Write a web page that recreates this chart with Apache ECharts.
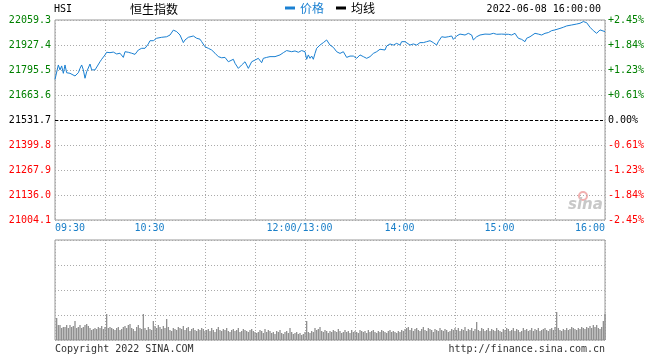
<!DOCTYPE html>
<html><head><meta charset="utf-8">
<script src="https://cdn.jsdelivr.net/npm/echarts@6/dist/echarts.min.js"></script>
<style>html,body{margin:0;padding:0;background:#fff}#c{width:660px;height:360px}</style>
</head><body><div id="c"></div>
<script>
// ---- data ----
const prevClose = 21531.7;           // previous close (base line)
const priceStep = 131.9;             // axis step in index points
const tickMinutes = [0, 60, 150, 210, 270, 330];           // trading minutes since 09:30
const tickLabels = ['09:30', '10:30', '12:00/13:00', '14:00', '15:00', '16:00'];

// trading minutes since open (lunch break removed)
const priceMinutes = [
  0,2,3,4,5,6,7,8,9,10,
  12,14,15,16,17,18,19,21,22,24,
  25,27,28,30,31,33,35,37,39,41,
  42,44,45,46,48,50,52,54,56,57,
  59,61,62,64,67,69,71,73,75,77,
  78,80,83,85,87,88,89,90,92,94,
  96,98,100,102,104,107,108,110,112,114,
  116,118,120,122,124,125,127,129,132,135,
  137,139,142,144,146,148,150,151,152,153,
  154,155,156,157,159,161,162,163,164,165,
  167,169,171,173,175,177,179,181,183,185,
  187,189,191,193,195,196,198,199,201,203,
  205,207,208,210,211,213,215,216,217,219,
  221,223,225,227,229,230,232,234,236,238,
  239,241,243,246,248,250,251,252,253,255,
  258,261,263,265,266,268,270,272,274,276,
  277,278,280,282,283,285,288,290,292,294,
  296,298,300,301,303,305,307,310,313,315,
  317,318,319,321,323,325,327,328,330
];
const prices = [
  21746,21822,21796,21817,21778,21822,21781,21786,21778,21781,
  21764,21781,21804,21822,21796,21752,21786,21827,21796,21796,
  21804,21839,21852,21875,21889,21887,21890,21880,21884,21862,
  21892,21889,21897,21884,21878,21901,21910,21910,21933,21950,
  21950,21963,21954,21968,21971,21980,22006,21998,21980,21940,
  21954,21968,21975,21963,21958,21945,21954,21918,21910,21901,
  21884,21866,21860,21862,21839,21852,21831,21804,21822,21839,
  21804,21839,21848,21857,21834,21857,21862,21866,21866,21875,
  21887,21898,21892,21896,21889,21898,21892,21852,21875,21857,
  21869,21852,21883,21910,21927,21940,21940,21954,21957,21927,
  21915,21892,21883,21892,21862,21869,21869,21857,21875,21866,
  21857,21866,21883,21892,21905,21915,21901,21922,21933,21927,
  21936,21927,21945,21945,21954,21927,21933,21940,21927,21940,
  21940,21945,21950,21940,21927,21945,21971,21968,21971,21975,
  21957,21975,21985,21980,21989,21980,21954,21945,21971,21980,
  21985,21984,21989,21984,21989,21985,21984,21984,21980,21989,
  21975,21963,21957,21945,21963,21971,21989,21985,21980,21989,
  21993,22003,22007,22010,22015,22021,22028,22033,22038,22042,
  22051,22056,22045,22021,22003,21989,22007,21998,21998
];
// volume per minute, minutes 1..330 (relative units, axis top = 100)
const volume = [
  22,15,15,12,13,13,15,12,15,13,14,19,12,13,15,12,13,15,16,14,12,10,11,12,11,13,12,14,11,13,
  26,12,13,12,11,10,12,13,10,11,13,14,12,15,16,12,11,9,13,15,12,11,26,12,10,13,11,10,19,14,
  12,15,13,11,14,12,21,13,10,9,12,11,10,13,12,11,14,10,12,13,9,11,12,10,9,11,10,12,11,9,
  10,11,9,12,10,8,11,13,10,9,11,10,12,9,8,10,11,9,10,12,8,9,11,10,9,8,10,11,9,8,
  7,8,10,9,7,11,8,10,9,7,8,6,9,8,10,7,6,8,9,7,12,8,6,7,8,6,7,5,6,8,
  19,8,7,9,8,12,10,11,13,9,8,10,9,7,9,8,10,9,8,11,9,7,8,10,8,9,7,10,8,9,
  8,7,10,9,8,9,7,10,8,9,10,8,7,9,8,10,9,8,7,9,10,8,9,8,7,9,8,10,9,11,
  12,13,10,12,9,11,12,10,9,11,13,10,9,12,11,10,8,11,10,9,12,10,9,11,10,8,9,11,10,12,
  10,12,9,11,10,13,9,11,10,12,9,11,18,10,9,12,11,9,10,12,9,11,10,9,12,10,9,8,11,10,
  12,11,9,10,12,9,11,10,8,9,12,10,11,9,10,12,9,11,10,12,9,10,11,12,10,9,11,12,10,13,
  28,12,10,9,11,10,12,10,11,13,12,11,10,12,11,13,12,11,13,12,14,12,15,13,15,12,11,13,19,26
];

// ---- chart ----
const MONO = '"DejaVu Sans Mono","Liberation Mono",monospace';
const CJK = '"Noto Sans CJK SC","Noto Sans",sans-serif';
const BLUE = '#1a80d2';
const LBLUE = '#1a7fc8';
const tenthsMax = Math.round(priceStep * 40);   // 4 steps, in tenths of a point
const tenthsStep = Math.round(priceStep * 10);
const colorFor = v => { v = Number(v); return v > 0 ? '#008000' : (v < 0 ? '#ff0000' : '#000000'); };

const priceData = priceMinutes.map((m, i) => [m, Math.round((prices[i] - prevClose) * 10)]);
const volData = volume.map((v, i) => [i + 1, v]);

const dotted = { show: true, lineStyle: { color: '#aaa', type: [1, 2], width: 1 } };

const chart = echarts.init(document.getElementById('c'), null, { renderer: 'canvas' });
chart.setOption({
  animation: false,
  backgroundColor: '#fff',
  title: [
    { text: 'HSI', left: 54, top: 4, padding: 0, textStyle: { fontFamily: MONO, fontSize: 10, fontWeight: 'normal', color: '#000' } },
    { text: '恒生指数', left: 130, top: 3, padding: 0, textStyle: { fontFamily: CJK, fontSize: 12, fontWeight: 'normal', color: '#000' } },
    { text: '2022-06-08 16:00:00', right: 59, top: 4, padding: 0, textStyle: { fontFamily: MONO, fontSize: 10, fontWeight: 'normal', color: '#000' } },
    { text: 'Copyright 2022 SINA.COM', left: 55, top: 344, padding: 0, textStyle: { fontFamily: MONO, fontSize: 10, fontWeight: 'normal', color: '#333' } },
    { text: 'http://finance.sina.com.cn', right: 55, top: 344, padding: 0, textStyle: { fontFamily: MONO, fontSize: 10, fontWeight: 'normal', color: '#333' } }
  ],
  legend: {
    left: 285, top: 2, padding: 0, icon: 'rect', itemWidth: 10, itemHeight: 3, itemGap: 12,
    selectedMode: false,
    textStyle: { fontFamily: CJK, fontSize: 12 },
    data: [
      { name: '价格', textStyle: { color: BLUE } },
      { name: '均线', textStyle: { color: '#000' } }
    ]
  },
  graphic: [
    { type: 'circle', silent: true, shape: { cx: 583, cy: 196, r: 4 },
      style: { fill: 'none', stroke: '#f2b0b0', lineWidth: 2 } },
    { type: 'text', left: 568, top: 198, silent: true,
      style: { text: 'sina', fill: '#c8c8c8', font: 'italic bold 15px "DejaVu Sans",sans-serif' } }
  ],
  grid: [
    { left: 55, right: 55, top: 20, height: 200, show: true, borderColor: '#999', borderWidth: 1 },
    { left: 55, right: 55, top: 240, height: 100, show: true, borderColor: '#999', borderWidth: 1 }
  ],
  xAxis: [
    { type: 'value', gridIndex: 0, min: 0, max: 330, interval: 30,
      axisLine: { show: false }, axisTick: { show: false }, splitLine: dotted,
      axisLabel: {
        show: true, margin: 3, showMinLabel: true, showMaxLabel: true,
        alignMinLabel: 'left', alignMaxLabel: 'right',
        fontFamily: MONO, fontSize: 10, color: LBLUE,
        formatter: v => {
          const i = tickMinutes.indexOf(Number(v));
          if (i < 0) return '';
          if (i === 0 || i === tickMinutes.length - 1) return tickLabels[i];
          return '{m|' + tickLabels[i] + '}';
        },
        rich: { m: { fontFamily: MONO, fontSize: 10, color: LBLUE, padding: [0, 11, 0, 0] } }
      } },
    { type: 'value', gridIndex: 1, min: 0, max: 330, interval: 30,
      axisLine: { show: false }, axisTick: { show: false }, axisLabel: { show: false }, splitLine: dotted }
  ],
  yAxis: [
    { type: 'value', gridIndex: 0, min: -tenthsMax, max: tenthsMax, interval: tenthsStep,
      axisLine: { show: false }, axisTick: { show: false }, splitLine: dotted,
      axisLabel: { margin: 4, fontFamily: MONO, fontSize: 10, color: colorFor, padding: [0, 0, 5, 0],
        formatter: v => ((Math.round(prevClose * 10) + Number(v)) / 10).toFixed(1) } },
    { type: 'value', gridIndex: 0, position: 'right', min: -tenthsMax, max: tenthsMax, interval: tenthsStep,
      axisLine: { show: false }, axisTick: { show: false }, splitLine: { show: false },
      axisLabel: { margin: 3, fontFamily: MONO, fontSize: 10, color: colorFor, padding: [0, 0, 5, 0],
        formatter: v => { v = Number(v); const p = v / 10 / prevClose * 100; return (v > 0 ? '+' : '') + p.toFixed(2) + '%'; } } },
    { type: 'value', gridIndex: 1, min: 0, max: 100, interval: 25,
      axisLine: { show: false }, axisTick: { show: false }, axisLabel: { show: false }, splitLine: dotted }
  ],
  series: [
    { name: '价格', type: 'line', xAxisIndex: 0, yAxisIndex: 0, data: priceData,
      showSymbol: false, symbol: 'none', color: BLUE, lineStyle: { color: BLUE, width: 1 },
      markLine: { silent: true, symbol: 'none', label: { show: false },
        lineStyle: { color: '#000', type: [3, 2], width: 1 }, data: [{ yAxis: 0 }] } },
    { name: '均线', type: 'line', xAxisIndex: 0, yAxisIndex: 0, data: [], showSymbol: false,
      color: '#000', lineStyle: { color: '#000', width: 1 } },
    { name: '成交量', type: 'bar', xAxisIndex: 1, yAxisIndex: 2, data: volData, barWidth: 1.3,
      itemStyle: { color: '#8f8f8f' } }
  ]
});
</script>
</body></html>
